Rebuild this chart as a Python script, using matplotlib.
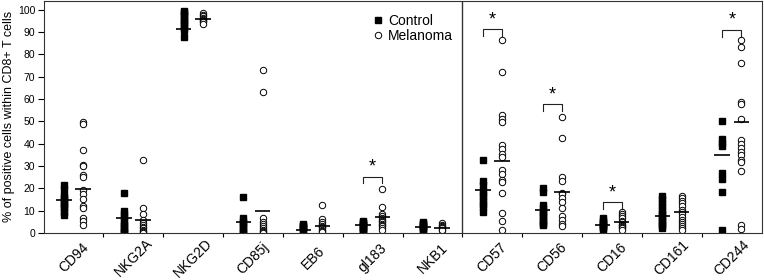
"""Percent of NK-receptor positive cells within CD8+ T cells: control vs melanoma."""
import numpy as np
import matplotlib
matplotlib.use("Agg")
import matplotlib.pyplot as plt

plt.rcParams['font.family'] = ['Liberation Sans', 'DejaVu Sans']

markers = ["CD94", "NKG2A", "NKG2D", "CD85j", "EB6", "gl183", "NKB1",
           "CD57", "CD56", "CD16", "CD161", "CD244"]

control = [
    [21.5, 19.5, 17, 16, 15, 14, 13, 12, 11, 9.5, 8],
    [18, 10, 8.5, 7, 5.5, 4, 3, 2, 1, 0.5, 0],
    [99.5, 99, 98, 97, 96, 95, 94, 93, 92, 91, 88],
    [16, 6.5, 5.5, 4.5, 3.5, 2.5, 1.5, 0.5, 0],
    [4.2, 3.5, 3, 2.5, 2, 1.5, 1],
    [5.5, 5, 4.5, 4, 3.5, 3, 2.5, 2, 1.5, 1, 0.5],
    [5, 4.5, 4, 3.5, 3, 2.5, 2, 1.5, 1],
    [32.5, 23.5, 21.5, 19, 17.5, 16, 14.5, 13, 11.5, 9.5],
    [20, 18.5, 12.5, 11, 10, 9, 8, 7, 6, 5, 4, 3.5],
    [6.5, 6, 5, 4.5, 4, 3.5, 3, 2.5, 2, 1.5],
    [16.4, 15, 13.5, 12, 10.5, 9, 8, 7, 6, 5, 4, 3, 2.2],
    [50.3, 42, 40.3, 39, 27, 24, 18.2, 1.5],
]

melanoma = [
    [49.5, 48.6, 37, 30.4, 30, 26, 24.9, 19.4, 17.5, 15.2, 11.9, 11, 6.7, 5.2, 3.7],
    [32.5, 11, 8.5, 6, 4.5, 3.5, 2.5, 2, 1.5, 1, 0.5, 0],
    [98.5, 97.8, 97, 96.5, 96, 95.5, 95, 94.5, 93.5],
    [72.8, 63, 6.5, 5, 4, 3, 2, 1.5, 1, 0.5, 0],
    [12.7, 6.4, 5, 4, 3, 2.5, 2, 1.5, 1, 0.5],
    [19.8, 11.8, 8.5, 7.5, 6.5, 6, 5.5, 5, 4.2, 3.5, 3, 2, 1.5],
    [4.5, 3.5, 3, 2.5, 2, 1.5, 1.2],
    [86.3, 71.9, 52.7, 51.2, 49.7, 39.2, 37.7, 35.5, 34, 28, 26.6, 23.9, 22.7,
     17.9, 9, 5.5, 1.5],
    [52, 42.5, 25, 23.5, 18, 17.5, 15.5, 14, 11.2, 7.7, 6, 4.2, 3],
    [9.4, 8.5, 7.5, 6.5, 5.5, 4.8, 4, 3.5, 3, 2.5, 2, 1.5],
    [16.4, 15.5, 14.5, 13.5, 12, 10.5, 9.5, 8.5, 7, 6, 5, 4, 3, 2, 1.5],
    [86.3, 83.3, 76.1, 58.5, 57.9, 51, 41.5, 39.9, 38.1, 36.3, 34.8, 32.8, 31.8,
     27.6, 3.4, 1.9],
]

control_mean = [14.6, 6.7, 91.3, 4.8, 1.5, 3.7, 2.7, 19.1, 10.1, 3.7, 7.7, 35.1]
melanoma_mean = [19.8, 6.0, 95.8, 9.7, 3.3, 7.3, 2.4, 32.1, 18.2, 4.9, 9.4, 49.7]

# significant pairs (index, bracket height)
sig_idx = [5, 7, 8, 9, 11]
sig_y = [25.2, 91.2, 57.6, 13.7, 91.0]


def main():
    fig = plt.figure(figsize=(7.64, 2.8), dpi=100)
    ax = fig.add_axes([0.057, 0.168, 0.94, 0.829])

    off = 0.16
    hw = 0.13
    for i in range(len(markers)):
        xc = i - off
        xm = i + off
        ax.plot([xc] * len(control[i]), control[i], 's', ms=4.4, color='k',
                mec='k', label="Control" if i == 0 else None)
        ax.plot([xm] * len(melanoma[i]), melanoma[i], 'o', ms=4.6, mfc='white',
                mec='k', mew=0.7, label="Melanoma" if i == 0 else None)
        ax.hlines(control_mean[i], xc - hw, xc + hw, color='k', lw=1.2, zorder=3)
        ax.hlines(melanoma_mean[i], xm - hw, xm + hw, color='k', lw=1.2, zorder=3)

    for i, yb in zip(sig_idx, sig_y):
        x0, x1 = i - off, i + off
        ax.plot([x0, x0, x1, x1], [yb - 3, yb, yb, yb - 3], color='#222222', lw=0.8)
        ax.text(i, yb + 0.5, "*", ha='center', va='bottom', fontsize=13)

    ax.axvline(6.5, color='#333333', lw=1)

    ax.set_xlim(-0.5, 11.5)
    ax.set_ylim(0, 104)
    ax.set_yticks(np.arange(0, 101, 10))
    ax.tick_params(axis='y', labelsize=7.5, length=4, width=0.8, pad=2)
    ax.set_xticks(np.arange(len(markers)))
    ax.set_xticklabels(markers, rotation=45, ha='center', va='center',
                       rotation_mode='anchor', fontsize=10)
    ax.tick_params(axis='x', length=0, pad=18)
    ax.set_xticks(np.arange(0.5, 11.5, 1), minor=True)
    ax.tick_params(axis='x', which='minor', length=3, width=0.8)
    for s in ax.spines.values():
        s.set_color('#333333')
        s.set_linewidth(0.8)
    ax.set_ylabel("% of positive cells within CD8+ T cells", fontsize=9,
                  labelpad=2)

    ax.legend(loc='upper right', bbox_to_anchor=(6.5, 102.5),
              bbox_transform=ax.transData, frameon=False, fontsize=10,
              handletextpad=0.2, borderpad=0.2, labelspacing=0.1,
              handlelength=1.0)

    fig.savefig("out.png", dpi=100)


if __name__ == "__main__":
    main()
